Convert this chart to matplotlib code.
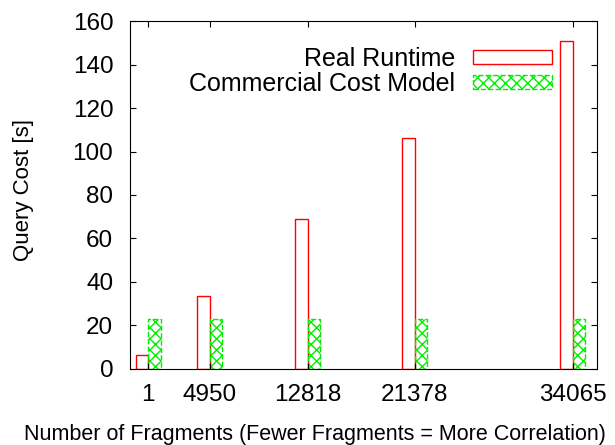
import numpy as np
import matplotlib.pyplot as plt

plt.rcParams['font.family'] = ['Liberation Sans', 'DejaVu Sans']

fragments = [1, 4950, 12818, 21378, 34065]
real_runtime = [6.5, 33.5, 69, 106, 151]
cost_model = [22.8, 22.8, 22.8, 22.8, 22.8]

x = np.array(fragments)
w = 1000

fig = plt.figure(figsize=(6.15, 4.45), dpi=100)
ax = fig.add_axes([0.2114, 0.1708, 0.7593, 0.782])

ax.bar(x - w / 2, real_runtime, width=w, facecolor='none', edgecolor='#ff0000',
       linewidth=1.0, label='Real Runtime')
ax.bar(x + w / 2, cost_model, width=w, facecolor='none', edgecolor='#00ee00',
       linewidth=1.0, linestyle='--', hatch='xxx', label='Commercial Cost Model')

ax.set_xlim(-1450, 36000)
ax.set_ylim(0, 160)
ax.set_xticks(fragments)
ax.set_xticklabels([str(f) for f in fragments])
ax.set_yticks(range(0, 161, 20))
ax.tick_params(direction='in', top=True, right=True, length=4.5, labelsize=17.5)
ax.tick_params(axis='y', pad=12)
ax.tick_params(axis='x', pad=11)

ax.set_ylabel('Query Cost [s]', fontsize=16)
ax.yaxis.set_label_coords(-0.205, 0.514)
fig.text(0.512, 5 / 445, 'Number of Fragments (Fewer Fragments = More Correlation)',
         fontsize=15.5, ha='center', va='baseline')

ax.legend(loc='upper right', frameon=False, markerfirst=False, fontsize=18,
          handlelength=3.16, handleheight=0.52, labelspacing=0.05,
          handletextpad=0.72, borderpad=0, borderaxespad=0,
          bbox_to_anchor=(0.904, 0.926))

fig.savefig('out.png', dpi=100)
